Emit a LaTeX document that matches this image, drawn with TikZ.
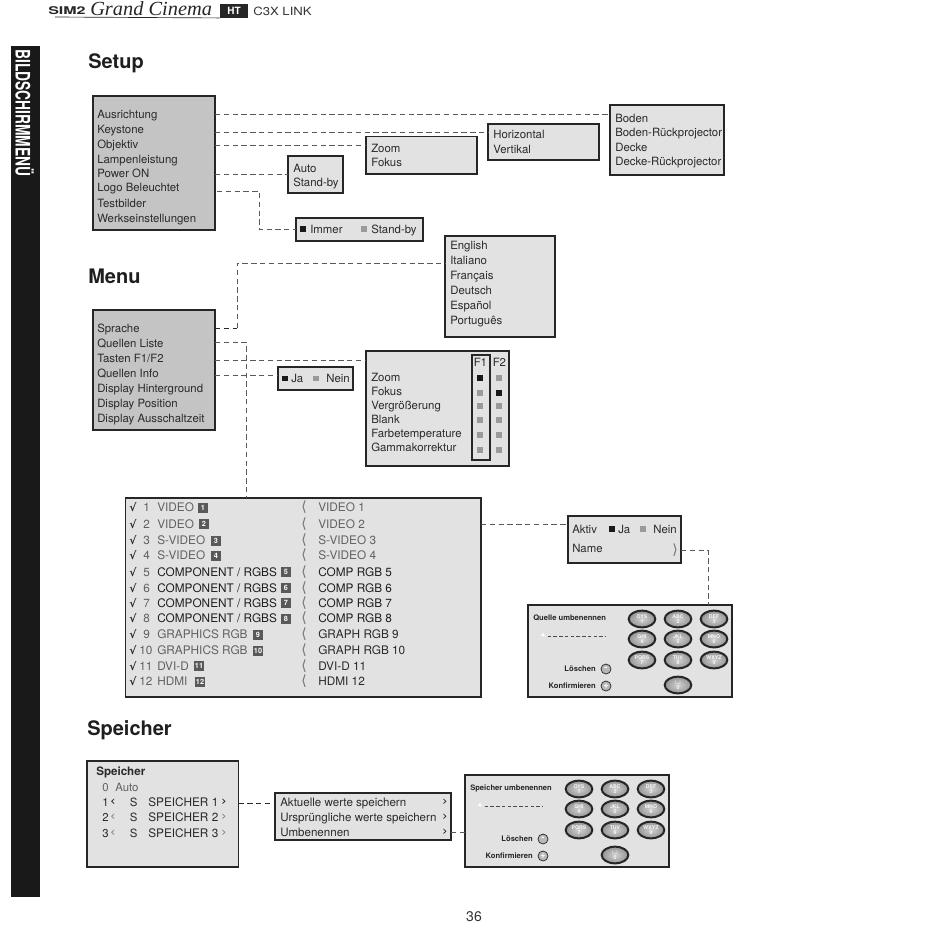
\documentclass[tikz,border=0pt]{standalone}
\usepackage{fontspec}
\setmainfont{TeX Gyre Heros}
\newfontfamily\serifit{Liberation Serif}
\newfontfamily\deja{DejaVu Sans}
\usetikzlibrary{shapes.geometric}
\definecolor{panel}{HTML}{E2E2E2}
\definecolor{panelB}{HTML}{C4C4C4}
\definecolor{ink}{HTML}{2A2A2A}
\definecolor{midg}{HTML}{9A9A9A}
\newcommand{\lch}{{\deja\fontsize{10.5}{12}\selectfont ⟨}}
\newcommand{\rch}{{\deja\fontsize{10.5}{12}\selectfont ⟩}}
\newcommand{\lsm}{{\deja\fontsize{9.5}{10}\selectfont ‹}}
\newcommand{\rsm}{{\deja\fontsize{9.5}{10}\selectfont ›}}
\tikzset{
  x=0.75pt,y=-0.75pt,
  box/.style={draw=black!85,line width=1.1pt,inner sep=0pt,outer sep=0pt},
  lbl/.style={anchor=west,inner sep=0pt,text height=7.9pt,text depth=1.8pt,text=ink,font=\fontsize{8.55}{10}\selectfont},
  lblg/.style={lbl,text=black!62},
  lblk/.style={lbl,text=black!88},
  title/.style={anchor=west,inner sep=0pt,text height=14pt,text depth=3.2pt,text=black!88,font=\fontsize{15}{17}\selectfont\bfseries},
  link/.style={draw=black!65,line width=0.55pt,dash pattern=on 4pt off 2.6pt},
  sqk/.style={fill=black!90,minimum size=3.9pt,inner sep=0pt},
  sqg/.style={fill=midg,minimum size=3.9pt,inner sep=0pt},
  badge/.style={fill=black!65,text=white,minimum width=7.5pt,minimum height=7.5pt,inner sep=0pt,font=\fontsize{5.5}{6}\selectfont\bfseries},
  chev/.style={inner sep=0pt,text=black!55},
  keyb/.style={ellipse,draw=black!85,line width=1.5pt,inner color=black!18,outer color=black!42,minimum width=20pt,minimum height=12.5pt,inner sep=0pt,align=center,text=black!3,font=\fontsize{3.9}{4.2}\selectfont\bfseries},
  roundb/.style={circle,draw=black!80,line width=0.6pt,fill=black!28,minimum size=7.5pt,inner sep=0pt,text=white,font=\fontsize{7}{7}\selectfont\bfseries},
  tiny/.style={inner sep=0pt,text height=6.2pt,text depth=1.2pt,text=black!85,font=\fontsize{5.7}{6}\selectfont\bfseries},
}
% box: name, x1,y1,x2,y2, fill
\newcommand{\mybox}[6]{%
  \pgfmathsetmacro{\bw}{(#4-#2)*0.75}\pgfmathsetmacro{\bh}{(#5-#3)*0.75}%
  \node[box,fill=#6,minimum width=\bw pt,minimum height=\bh pt] (#1) at ({(#2+#4)/2},{(#3+#5)/2}) {};}
\newcommand{\keypad}[2]{% prefix, title
  \node[tiny,anchor=west] (#1t) at (533,617) {#2};
  \node[fill=white,isosceles triangle,isosceles triangle apex angle=60,shape border rotate=90,minimum size=2.6pt,inner sep=0pt] (#1a) at (543,635) {};
  \coordinate (#1d) at (605,636);
  \draw[draw=black!70,line width=0.5pt,dash pattern=on 2.7pt off 1.6pt] (#1a.east |- #1d) ++(3,0) -- (#1d);
  \node[keyb] (#1k1) at (642,619) {OYS\\1};
  \node[keyb] (#1k2) at (678,619) {ABC\\2};
  \node[keyb] (#1k3) at (714,619) {DEF\\3};
  \node[keyb] (#1k4) at (642,639) {GHI\\4};
  \node[keyb] (#1k5) at (678,639) {JKL\\5};
  \node[keyb] (#1k6) at (714,639) {MNO\\6};
  \node[keyb] (#1k7) at (642,660) {PQRS\\7};
  \node[keyb] (#1k8) at (678,660) {TUV\\8};
  \node[keyb] (#1k9) at (714,660) {WXYZ\\9};
  \node[keyb] (#1k0) at (678,685) {$\sqcup$\\0};
  \node[tiny,anchor=east] (#1l) at (596,668) {Löschen};
  \node[roundb] (#1lb) at (606,669) {-};
  \node[tiny,anchor=east] (#1c) at (596,685) {Konfirmieren};
  \node[roundb] (#1cb) at (606,686) {+};
}
\begin{document}
\begin{tikzpicture}
\useasboundingbox (0,0) rectangle (950,950);
\fill[white] (0,0) rectangle (950,950);
% header
\node[inner sep=0pt,anchor=west,text=black!85] (hsim) at (48,11) {\fontsize{8}{8}\selectfont\bfseries\scalebox{1.5}[1]{SIM2}};
\node[inner sep=0pt,anchor=west,text=black!85] (hgc) at (90,9) {\serifit\itshape\fontsize{15}{15}\selectfont\scalebox{1.02}[1]{Grand Cinema}};
\node[fill=black!85,text=white,inner sep=0pt,minimum width=21pt,minimum height=10pt,font=\fontsize{7.5}{8}\selectfont\bfseries] (hht) at (234,11) {HT};
\draw[black!85,line width=0.5pt] (55,17) -- (hht.south west);
\node[inner sep=0pt,anchor=west,text=black!80] (hlink) at (253,11) {\fontsize{8.5}{9}\selectfont\scalebox{1.16}[1]{C3X LINK}};
% sidebar
\fill[black!90] (11,46) rectangle (40,897);
\node[rotate=-90,anchor=west,inner sep=0pt,text=white] (side) at (24.5,49) {\fontsize{15}{16}\selectfont\bfseries\scalebox{0.69}[1]{BILDSCHIRMMENÜ}};
% titles
\node[title] (tsetup) at (88,61) {Setup};
\node[title] (tmenu) at (88,276) {Menu};
\node[title] (tspeicher) at (87,728) {Speicher};
\node[inner sep=0pt,text=black!80,font=\fontsize{10.5}{11}\selectfont] (pg) at (474,917) {36};

% ---- Setup
\mybox{setup}{93}{96}{215}{230}{panelB}
\node[lbl] (s1) at (97,114.5) {Ausrichtung};
\node[lbl] (s2) at (97,129.5) {Keystone};
\node[lbl] (s3) at (97,144.5) {Objektiv};
\node[lbl] (s4) at (97,159) {Lampenleistung};
\node[lbl] (s5) at (97,173.5) {Power ON};
\node[lbl] (s6) at (97,187.5) {Logo Beleuchtet};
\node[lbl] (s7) at (97,203) {Testbilder};
\node[lbl] (s8) at (97,218) {Werkseinstellungen};
\mybox{boden}{610}{105}{724}{175}{panel}
\node[lbl] (b1) at (615,118.5) {Boden};
\node[lbl] (b2) at (615,132.5) {Boden-Rückprojector};
\node[lbl] (b3) at (615,147) {Decke};
\node[lbl] (b4) at (615,161) {Decke-Rückprojector};
\mybox{hor}{488}{124}{599}{160}{panel}
\node[lbl] (h1) at (493,134.5) {Horizontal};
\node[lbl] (h2) at (493,149) {Vertikal};
\mybox{zoomb}{366}{136.5}{477}{174}{panel}
\node[lbl] (z1) at (371,148.5) {Zoom};
\node[lbl] (z2) at (371,162.5) {Fokus};
\mybox{auto}{288}{156}{343}{193}{panel}
\node[lbl] (a1) at (293,168) {Auto};
\node[lbl] (a2) at (293,182) {Stand-by};
\mybox{immer}{296}{218}{423}{241}{panel}
\node[sqk] (i1) at (303,229) {};
\node[lbl] (i2) at (310,229) {Immer};
\node[sqg] (i3) at (364,229) {};
\node[lbl] (i4) at (371,229) {Stand-by};
\coordinate (c1) at (215,114);
\coordinate (c2) at (215,132);
\coordinate (c3) at (215,145);
\coordinate (c4) at (215,174.5);
\coordinate (c5) at (217,191);
\coordinate (c6) at (259,191);
\draw[link] (c1) -- (boden.west |- c1);
\draw[link] (c2) -- (hor.west |- c2);
\draw[link] (c3) -- (zoomb.west |- c3);
\draw[link] (c4) -- (auto.west |- c4);
\draw[link] (c5) -- (c6) |- (immer.west);

% ---- Menu
\mybox{menu}{93}{310}{215}{430}{panelB}
\node[lbl] (m1) at (97,328) {Sprache};
\node[lbl] (m2) at (97,343) {Quellen Liste};
\node[lbl] (m3) at (97,358) {Tasten F1/F2};
\node[lbl] (m4) at (97,373) {Quellen Info};
\node[lbl] (m5) at (97,388) {Display Hinterground};
\node[lbl] (m6) at (97,403) {Display Position};
\node[lbl] (m7) at (97,418) {Display Ausschaltzeit};
\mybox{lang}{445}{236}{555}{337}{panel}
\node[lbl] (l1) at (450,245) {English};
\node[lbl] (l2) at (450,260) {Italiano};
\node[lbl] (l3) at (450,275) {Français};
\node[lbl] (l4) at (450,290) {Deutsch};
\node[lbl] (l5) at (450,305) {Español};
\node[lbl] (l6) at (450,320) {Português};
\mybox{ja}{278}{367}{353}{390}{panel}
\node[sqk] (j1) at (285,378.5) {};
\node[lbl] (j2) at (291,378.5) {Ja};
\node[sqg] (j3) at (316,378.5) {};
\node[lbl] (j4) at (326,378.5) {Nein};
\mybox{fbox}{366}{351}{509}{466}{panel}
\mybox{fone}{472}{355}{490}{460}{panel}
\node[lbl] (ff1) at (473.5,362.5) {F1};
\node[lbl] (ff2) at (492.5,362.5) {F2};
\node[lbl] (f1) at (371,377) {Zoom};
\node[lbl] (f2) at (371,391) {Fokus};
\node[lbl] (f3) at (371,405) {Vergrößerung};
\node[lbl] (f4) at (371,419) {Blank};
\node[lbl] (f5) at (371,433) {Farbetemperature};
\node[lbl] (f6) at (371,447) {Gammakorrektur};
\node[sqk] (q11) at (480,378) {};
\node[sqg] (q21) at (480,393) {};
\node[sqg] (q31) at (480,406) {};
\node[sqg] (q41) at (480,420) {};
\node[sqg] (q51) at (480,435) {};
\node[sqg] (q61) at (480,450) {};
\node[sqg] (q12) at (499,378) {};
\node[sqk] (q22) at (499,393) {};
\node[sqg] (q32) at (499,406) {};
\node[sqg] (q42) at (499,420) {};
\node[sqg] (q52) at (499,435) {};
\node[sqg] (q62) at (499,450) {};
\mybox{list}{125.5}{498}{481}{697}{panel}
\coordinate (d1) at (215,328);
\coordinate (d2) at (237,328);
\coordinate (d3) at (237,263);
\coordinate (d4) at (215,342);
\coordinate (d5) at (246,342);
\coordinate (d6) at (215,360);
\coordinate (d7) at (215,375);
\draw[link,draw=black!85] (d1) -- (d2);
\draw[link] (d2) -- (d3) -- (lang.west |- d3);
\draw[link] (d4) -- (d5) -- (d5 |- list.north);
\draw[link] (d6) -- (fbox.west |- d6);
\draw[link] (d7) -- (ja.west |- d7);

% ---- Source list
\tikzset{big/.style={font=\fontsize{8.85}{10}\selectfont},act/.style={font=\fontsize{8.67}{10}\selectfont}}
\newcommand{\srow}[7]{% y, num, numx, label, badgex, badge, right
  \node[lbl,font=\fontsize{8.4}{10}\selectfont\bfseries] at (129,#1) {\deja\fontsize{8}{10}\selectfont √};
  \node[lblg,big] at (#3,#1) {#2};
  \node[lblg,big] at (157,#1) {#4};
  \node[badge] at (#5,#1) {#6};
  \node[chev] at (304,#1) {\lch};
  \node[lblg,big] at (318,#1) {#7};}
\newcommand{\srowk}[7]{%
  \node[lbl,font=\fontsize{8.4}{10}\selectfont\bfseries] at (129,#1) {\deja\fontsize{8}{10}\selectfont √};
  \node[lblg,big] at (#3,#1) {#2};
  \node[lblk,big] at (157,#1) {#4};
  \node[badge] at (#5,#1) {#6};
  \node[chev] at (304,#1) {\lch};
  \node[lblk,big] at (318,#1) {#7};}
\srow{507.5}{1}{143}{VIDEO}{203}{1}{VIDEO 1}
\srow{524}{2}{143}{VIDEO}{204}{2}{VIDEO 2}
\srow{540.5}{3}{143}{S-VIDEO}{216}{3}{S-VIDEO 3}
\srow{555.5}{4}{143}{S-VIDEO}{216}{4}{S-VIDEO 4}
\srowk{572}{5}{143}{COMPONENT / RGBS}{286}{5}{COMP RGB 5}
\srowk{588}{6}{143}{COMPONENT / RGBS}{286}{6}{COMP RGB 6}
\srowk{603}{7}{143}{COMPONENT / RGBS}{286}{7}{COMP RGB 7}
\srowk{618.5}{8}{143}{COMPONENT / RGBS}{286}{8}{COMP RGB 8}
\srow{634.5}{9}{143}{GRAPHICS RGB}{258}{9}{\textcolor{ink}{GRAPH RGB 9}}
\srow{650.5}{10}{139}{GRAPHICS RGB}{258}{10}{\textcolor{ink}{GRAPH RGB 10}}
\srow{666}{11}{139}{DVI-D}{199}{11}{\textcolor{ink}{DVI-D 11}}
\srow{681.5}{12}{139}{HDMI}{200}{12}{\textcolor{ink}{HDMI 12}}

% ---- Aktiv
\mybox{aktiv}{568}{516}{681}{563}{panel}
\node[lbl] (ak1) at (572,529) {Aktiv};
\node[sqk] (ak2) at (612,529) {};
\node[lbl] (ak3) at (618,529) {Ja};
\node[sqg] (ak4) at (643,529) {};
\node[lbl] (ak5) at (653,529) {Nein};
\node[lbl] (ak6) at (572,548) {Name};
\node[chev] (ak7) at (675,550) {\rch};
\mybox{pad}{528}{605}{732}{697}{panel}
\keypad{p}{Quelle umbenennen}
\coordinate (e1) at (481,524);
\coordinate (e2) at (681,550);
\coordinate (e3) at (708,550);
\draw[link] (e1) -- (aktiv.west |- e1);
\draw[link] (e2) -- (e3) -- (e3 |- pad.north);

% ---- Speicher
\mybox{mem}{87}{761}{238.5}{867}{panel}
\node[lbl,font=\fontsize{8.7}{10}\selectfont\bfseries] (me) at (96,771.5) {Speicher};
\node[lblg] (m0) at (102,787.5) {0};
\node[lblg] (m00) at (115,787.5) {Auto};
\newcommand{\mrow}[5]{%
  \node[#4] at (102,#1) {#2};
  \node[chev,text=#5] at (113,#1) {\lsm};
  \node[#4] at (129.5,#1) {S};
  \node[#4,big] at (148,#1) {#3};
  \node[chev,text=#5] at (224,#1) {\rsm};}
\mrow{802.5}{1}{SPEICHER 1}{lbl}{black!90}
\mrow{817.5}{2}{SPEICHER 2}{lbl}{black!50}
\mrow{833.5}{3}{SPEICHER 3}{lbl}{black!50}
\mybox{actb}{275}{793}{451}{840}{panel}
\node[lbl,act] (w1) at (280,802.5) {Aktuelle werte speichern};
\node[lbl,act] (w2) at (280,817.5) {Ursprüngliche werte speichern};
\node[lbl,act] (w3) at (280,832.5) {Umbenennen};
\node[chev,text=black!85] (w4) at (445,802.5) {\rsm};
\node[chev,text=black!85] (w5) at (445,817.5) {\rsm};
\node[chev,text=black!85] (w6) at (445,832.5) {\rsm};
\mybox{pad2}{465}{775}{669}{867}{panel}
\begin{scope}[shift={(-63,170)}]
\keypad{r}{Speicher umbenennen}
\end{scope}
\coordinate (g1) at (238.5,803);
\coordinate (g2) at (451,832);
\draw[link,draw=black!85] (g1) -- (actb.west |- g1);
\draw[link] (g2) -- (pad2.west |- g2);
\end{tikzpicture}
\end{document}
